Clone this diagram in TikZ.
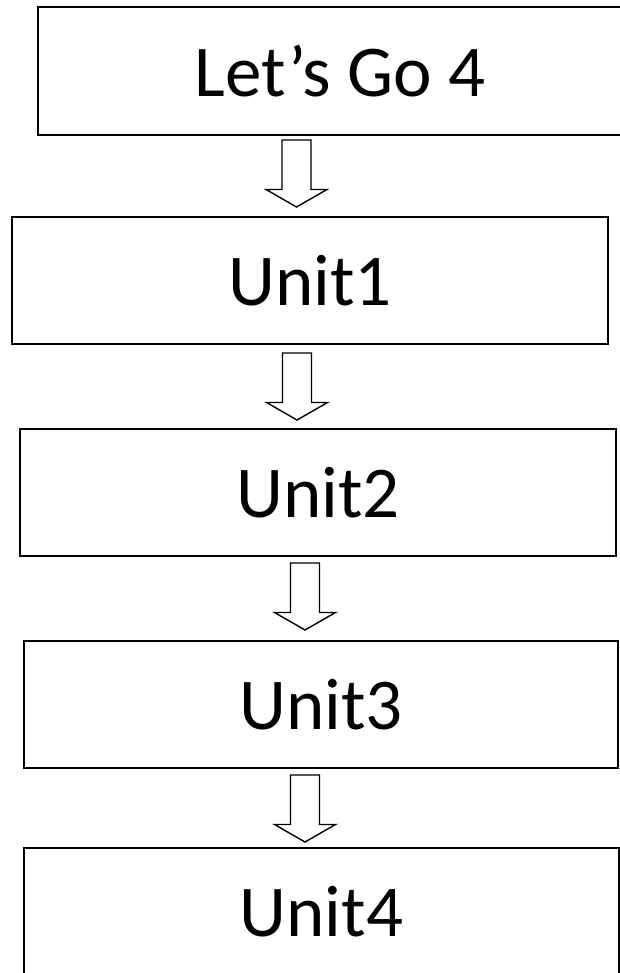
\documentclass[tikz,border=0pt]{standalone}
\usepackage{fontspec}
\setmainfont{Carlito}
\usetikzlibrary{calc}
\newcommand\blockarr[5]{% from node, to node, x centre, gap below source, gap above target
  \draw[blockarrow] let \p1=(#1.south), \p2=(#2.north) in
    ({#3pt-14.5pt},{\y1-#4pt}) -- ({#3pt+14.5pt},{\y1-#4pt})
    -- ({#3pt+14.5pt},{\y2+#5pt+17.5pt}) -- ({#3pt+30.5pt},{\y2+#5pt+17.5pt})
    -- ({#3pt},{\y2+#5pt}) -- ({#3pt-30.5pt},{\y2+#5pt+17.5pt})
    -- ({#3pt-14.5pt},{\y2+#5pt+17.5pt}) -- cycle;}
\begin{document}
\begin{tikzpicture}[x=1pt,y=-1pt,
  box/.style={draw=black, line width=2pt, rectangle, inner sep=0pt,
    minimum height=127pt, font=\fontsize{73}{80}\selectfont},
  blockarrow/.style={draw=black, line width=1.4pt, fill=white, line join=miter}]
\useasboundingbox (0,0) rectangle (620,973);
\clip (0,0) rectangle (620,973);
\node[box, minimum width=604pt, minimum height=128pt] (b0) at (340,71) {Let’s Go 4};
\node[box, minimum width=596pt] (b1) at (310,280.5) {Unit1};
\node[box, minimum width=596pt] (b2) at (318,492.5) {Unit2};
\node[box, minimum width=594pt] (b3) at (321,704.5) {Unit3};
\node[box, minimum width=595pt] (b4) at (321.5,911.5) {Unit4};
\blockarr{b0}{b1}{296.5}{4}{9}
\blockarr{b1}{b2}{297}{8}{8}
\blockarr{b2}{b3}{305}{6}{10}
\blockarr{b3}{b4}{305}{6}{5}
\end{tikzpicture}
\end{document}
